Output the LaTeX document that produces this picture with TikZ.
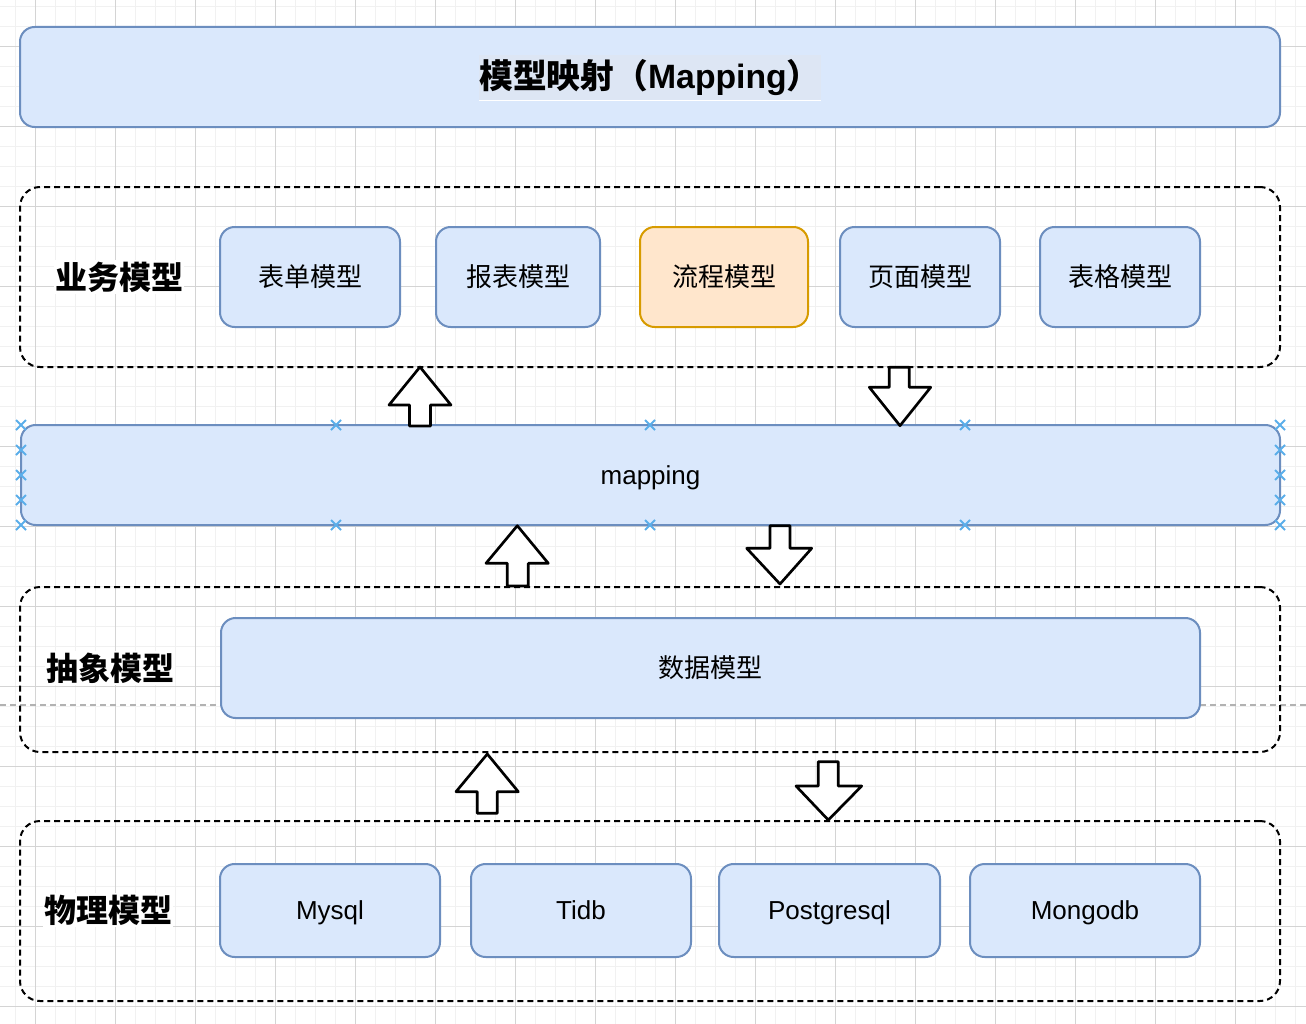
\documentclass[tikz,border=0pt]{standalone}
\usepackage{fontspec}
\setmainfont{Liberation Sans}
\newfontfamily\cjk{Noto Sans CJK SC}
\definecolor{bfill}{HTML}{DAE8FC}
\definecolor{bdraw}{HTML}{6C8EBF}
\definecolor{ofill}{HTML}{FFE6CC}
\definecolor{odraw}{HTML}{D79B00}
\definecolor{tlab}{HTML}{DDE6F4}
\definecolor{gminor}{HTML}{F1F1F1}
\definecolor{gmajor}{HTML}{D4D4D4}
\definecolor{xblue}{HTML}{5AAEEA}
\begin{document}
\begin{tikzpicture}[x=0.75pt,y=-0.75pt,
  sz/.style 2 args={minimum width=#1*0.75pt, minimum height=#2*0.75pt},
  bluebox/.style={draw=bdraw, fill=bfill, line width=1.5pt, rounded corners=11pt, inner sep=0pt},
  orangebox/.style={draw=odraw, fill=ofill, line width=1.5pt, rounded corners=11pt, inner sep=0pt},
  container/.style={draw=black, line width=1.5pt, dash pattern=on 4.5pt off 3pt, rounded corners=15pt, inner sep=0pt},
  boxtext/.style={font=\cjk\fontsize{19.5pt}{23pt}\selectfont},
  entext/.style={font=\fontsize{19.5pt}{23pt}\selectfont, text height=18.5pt, text depth=5pt},
  grouplabel/.style={fill=white, inner sep=1pt, font=\bfseries\cjk\fontsize{24pt}{28pt}\selectfont},
  blockarrow/.style={draw=black, fill=white, line width=2pt, line join=round},
  xmark/.style={draw=xblue, line width=1.4pt},
  gridminor/.style={draw=gminor, line width=0.75pt},
  gridmajor/.style={draw=gmajor, line width=0.75pt}
]
\useasboundingbox (0,0) rectangle (1306,1024);
\fill[white] (0,0) rectangle (1306,1024);
% grid
\foreach \i in {0,...,65} \draw[gridminor] ({15.7+20*\i},0) -- ++(0,1024);
\foreach \j in {0,...,51} \draw[gridminor] (0,{6.7+20*\j}) -- ++(1306,0);
\foreach \i in {0,...,16} \draw[gridmajor] ({35.7+80*\i},0) -- ++(0,1024);
\foreach \j in {0,...,12} \draw[gridmajor] (0,{46.7+80*\j}) -- ++(1306,0);
% gray dashed guide line
\coordinate (gl) at (0,705);
\coordinate (gr) at (1306,705);
\draw[draw=gray!60, line width=1.2pt, dash pattern=on 4.5pt off 3pt] (gl) -- (gr);

% title
\node[bluebox, sz={1260}{100}] (title) at (650,77) {};
\node[fill=tlab, inner xsep=0pt, inner ysep=3.5pt, font=\bfseries\fontsize{25.3pt}{29pt}\selectfont] (tlabel) at (650,77.5) {{\cjk 模型映射（}Mapping{\cjk ）}};
\draw[white, line width=0.75pt] (tlabel.south west) -- (tlabel.south east);

% business layer
\node[container, sz={1260}{180}] (biz) at (650,277) {};
\node[grouplabel] (bizlabel) at (119,277) {业务模型};
\node[bluebox, sz={180}{100}, boxtext] (b1) at (310,277) {表单模型};
\node[bluebox, sz={164}{100}, boxtext] (b2) at (518,277) {报表模型};
\node[orangebox, sz={168}{100}, boxtext] (b3) at (724,277) {流程模型};
\node[bluebox, sz={160}{100}, boxtext] (b4) at (920,277) {页面模型};
\node[bluebox, sz={160}{100}, boxtext] (b5) at (1120,277) {表格模型};

% mapping
\node[bluebox, sz={1259}{100}, entext] (map) at (650.5,475) {mapping};
\foreach \x in {21,336,650,965,1280} {
  \foreach \y in {425,525} {
    \draw[xmark] (\x-5,\y-5) -- (\x+5,\y+5) (\x-5,\y+5) -- (\x+5,\y-5);
  }
}
\foreach \x in {21,1280} {
  \foreach \y in {450,475,500} {
    \draw[xmark] (\x-5,\y-5) -- (\x+5,\y+5) (\x-5,\y+5) -- (\x+5,\y-5);
  }
}

% abstract layer
\node[container, sz={1260}{165}] (abs) at (650,669.5) {};
\node[grouplabel] (abslabel) at (110,668) {抽象模型};
\node[bluebox, sz={979}{100}, boxtext] (data) at (710.5,668) {数据模型};

% physical layer
\node[container, sz={1260}{180}] (phys) at (650,911) {};
\node[grouplabel] (physlabel) at (108,910) {物理模型};
\node[bluebox, sz={220}{93}, entext] (p1) at (330,910.5) {Mysql};
\node[bluebox, sz={220}{93}, entext] (p2) at (581,910.5) {Tidb};
\node[bluebox, sz={221}{93}, entext] (p3) at (829.5,910.5) {Postgresql};
\node[bluebox, sz={230}{93}, entext] (p4) at (1085,910.5) {Mongodb};

% block arrows
% up 1
\draw[blockarrow] (420,367) -- (451,405) -- (430.5,405) -- (430.5,426) -- (409.5,426) -- (409.5,405) -- (389,405) -- cycle;
% down 1
\draw[blockarrow] (900,425.7) -- (930.7,387.3) -- (909.3,387.3) -- (909.3,367.3) -- (889.3,367.3) -- (889.3,387.3) -- (869.3,387.3) -- cycle;
% up 2
\draw[blockarrow] (517.3,525.7) -- (548.3,563.3) -- (528.3,563.3) -- (528.3,586) -- (507.3,586) -- (507.3,563.3) -- (486,563.3) -- cycle;
% down 2
\draw[blockarrow] (780,584) -- (811.7,548.3) -- (790,548.3) -- (790,525.7) -- (770,525.7) -- (770,548.3) -- (746.7,548.3) -- cycle;
% up 3
\draw[blockarrow] (487.3,754) -- (518.3,791.7) -- (497.3,791.7) -- (497.3,813.3) -- (477.3,813.3) -- (477.3,791.7) -- (456,791.7) -- cycle;
% down 3
\draw[blockarrow] (828.3,820) -- (861.7,786) -- (838.3,786) -- (838.3,761.7) -- (818.3,761.7) -- (818.3,786) -- (796,786) -- cycle;
\end{tikzpicture}
\end{document}
